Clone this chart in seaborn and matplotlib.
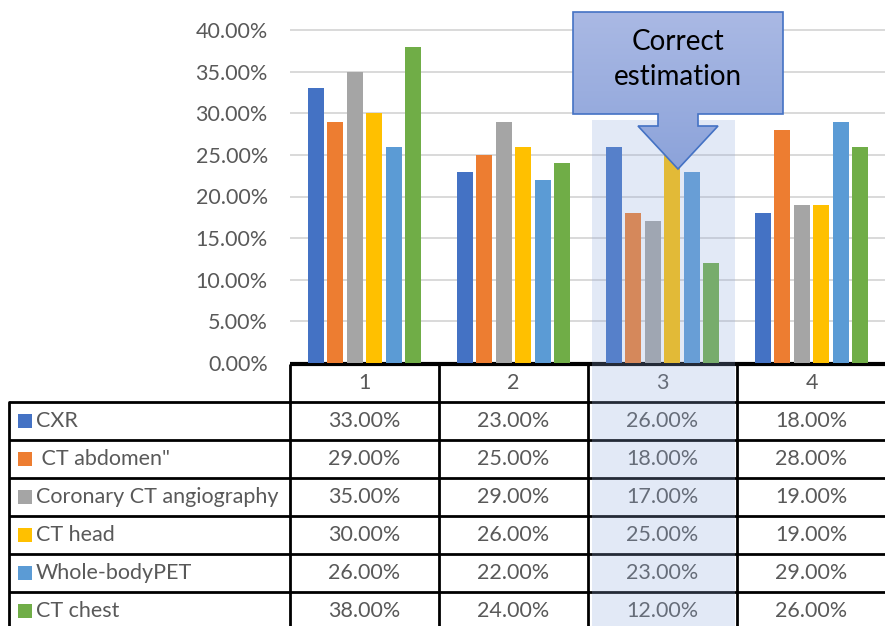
import numpy as np
import pandas as pd
import matplotlib
matplotlib.use("Agg")
import matplotlib.pyplot as plt
import seaborn as sns
from matplotlib.patches import Rectangle, Polygon
from matplotlib.colors import LinearSegmentedColormap

categories = ["1", "2", "3", "4"]
series = ["CXR", " CT abdomen\"", "Coronary CT angiography", "CT head", "Whole-bodyPET", "CT chest"]
cxr = [33, 23, 26, 18]
ct_abdomen = [29, 25, 18, 28]
coronary = [35, 29, 17, 19]
ct_head = [30, 26, 25, 19]
pet = [26, 22, 23, 29]
ct_chest = [38, 24, 12, 26]
yticks = [0, 5, 10, 15, 20, 25, 30, 35, 40]
colors = ["#4472C4", "#ED7D31", "#A5A5A5", "#FFC000", "#5B9BD5", "#70AD47"]
highlight_cat = 2
callout_lines = ["Correct", "estimation"]

values = [cxr, ct_abdomen, coronary, ct_head, pet, ct_chest]
rows = []
for s, vals in zip(series, values):
    for c, v in zip(categories, vals):
        rows.append({"cat": c, "series": s, "val": v})
df = pd.DataFrame(rows)

sns.set_theme(style="white")
plt.rcParams["font.family"] = ["Lato", "DejaVu Sans"]
TXT = "#595959"
FS = 15.5

W, H = 885, 626
fig = plt.figure(figsize=(W / 100, H / 100), dpi=100)

# geometry in pixels
x_left_plot = 290
cat_w = 149
y_zero = 363
px_per_pct = 8.325

ax = fig.add_axes([x_left_plot / W, (H - y_zero) / H, 4 * cat_w / W, y_zero / H])
ax.set_facecolor("none")
ax.set_zorder(2)

sns.barplot(data=df, x="cat", y="val", hue="series", palette=colors, width=0.785,
            gap=0.18, saturation=1, linewidth=0, legend=False, ax=ax, zorder=2)
ax.set_xlim(-0.5, 3.5)
ax.set_ylim(0, y_zero / px_per_pct)
ax.set_yticks(yticks)
ax.set_yticklabels([f"{t:.2f}%" for t in yticks], color=TXT, fontsize=FS)
ax.tick_params(axis="y", length=0, pad=16)
ax.set_xticks([])
ax.set_xlabel("")
ax.set_ylabel("")
for sp in ax.spines.values():
    sp.set_visible(False)
ax.grid(False)
for t in yticks[1:]:
    ax.axhline(t, color="#D9D9D9", lw=1.4, zorder=0)

# table axes
tbl_left_px = 9
tbl_top_px = 364
row_h = 38
n_rows = 7
ax_t = fig.add_axes([tbl_left_px / W, (H - (tbl_top_px + n_rows * row_h)) / H,
                     (x_left_plot + 4 * cat_w - tbl_left_px) / W, n_rows * row_h / H])
ax_t.set_zorder(1)
ax_t.set_facecolor("none")
x_tbl_left = -0.5 - (x_left_plot - tbl_left_px) / cat_w
ax_t.set_xlim(x_tbl_left, 3.5)
ax_t.set_ylim(n_rows, 0)
ax_t.axis("off")

lw = 2.0
ax_t.plot([-0.5, 3.5], [0, 0], color="black", lw=3, clip_on=False, solid_capstyle="butt")
for r in range(1, n_rows):
    ax_t.plot([x_tbl_left, 3.5], [r, r], color="black", lw=lw, clip_on=False, solid_capstyle="butt")
for xb in [-0.5, 0.5, 1.5, 2.5]:
    ax_t.plot([xb, xb], [0, n_rows], color="black", lw=lw, clip_on=False, solid_capstyle="butt")
ax_t.plot([x_tbl_left, x_tbl_left], [1, n_rows], color="black", lw=lw, clip_on=False)

for i, c in enumerate(categories):
    ax_t.text(i, 0.5, c, ha="center", va="center", color=TXT, fontsize=FS)
for r, (s, vals, col) in enumerate(zip(series, values, colors), start=1):
    ax_t.scatter([x_tbl_left + 16 / cat_w], [r + 0.5], marker="s", s=115, color=col,
                 linewidths=0, clip_on=False)
    ax_t.text(x_tbl_left + 27 / cat_w, r + 0.5, s, ha="left", va="center", color=TXT, fontsize=FS)
    for i, v in enumerate(vals):
        ax_t.text(i, r + 0.5, f"{v:.2f}%", ha="center", va="center", color=TXT, fontsize=FS)

# highlight column overlay
hx0 = highlight_cat - 0.5 + 4 / cat_w
hx1 = highlight_cat + 0.5 - 2 / cat_w
hy_top = (y_zero - 120) / px_per_pct
hy_bot = -(H - y_zero + 5) / px_per_pct
ax.add_patch(Rectangle((hx0, hy_bot), hx1 - hx0, hy_top - hy_bot, facecolor="#8FAADC",
                       alpha=0.25, edgecolor="none", clip_on=False, zorder=5))

# callout (down arrow callout)
def px2x(px):
    return -0.5 + (px - x_left_plot) / cat_w

def py2y(py):
    return (y_zero - py) / px_per_pct

bx0, bx1 = px2x(573), px2x(783)
by0, by1 = py2y(114), py2y(12)
sx0, sx1 = px2x(658), px2x(698)
hx_0, hx_1 = px2x(638), px2x(718)
head_y = py2y(126)
tip_x, tip_y = px2x(678), py2y(169)
pts = [(bx0, by1), (bx1, by1), (bx1, by0), (sx1, by0), (sx1, head_y), (hx_1, head_y),
       (tip_x, tip_y), (hx_0, head_y), (sx0, head_y), (sx0, by0), (bx0, by0)]
poly = Polygon(pts, closed=True, facecolor="none", edgecolor="#4472C4", lw=1.2, zorder=7)
ax.add_patch(poly)
cmap = LinearSegmentedColormap.from_list("g", ["#8CA3DA", "#AAB9E4"])
grad = np.linspace(0, 1, 256).reshape(-1, 1)
im = ax.imshow(grad, extent=[bx0, bx1, tip_y, by1], origin="lower", cmap=cmap,
               aspect="auto", zorder=6)
im.set_clip_path(Polygon(pts, closed=True, transform=ax.transData))
ax.set_xlim(-0.5, 3.5)
ax.set_ylim(0, y_zero / px_per_pct)
for line, py in zip(callout_lines, [42, 77]):
    ax.text((bx0 + bx1) / 2, py2y(py), line, ha="center", va="center",
            fontsize=20, color="black", zorder=8)

fig.savefig("out.png", dpi=100)
